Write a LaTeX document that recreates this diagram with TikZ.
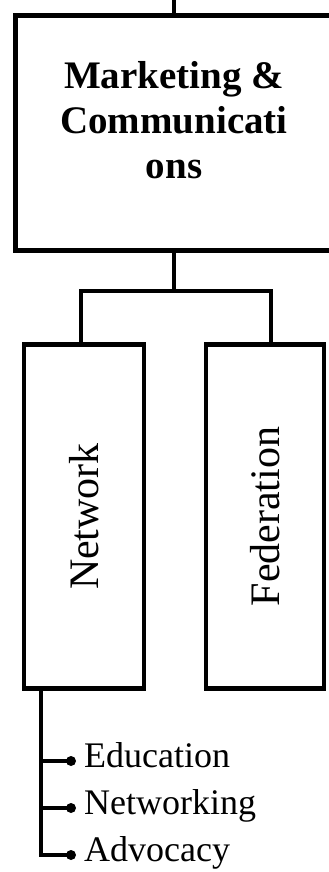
\documentclass[tikz,border=0pt]{standalone}
\usepackage{fontspec}
\setmainfont{Liberation Serif}

\begin{document}
\begin{tikzpicture}[x=1pt, y=-1pt, link/.style={line width=4pt},%
        unit/.style={draw, line width=4.5pt, minimum height=344pt, inner sep=0pt, font=\fontsize{42}{42}\selectfont},%
        item/.style={anchor=west, inner sep=0pt, text height=12pt, text depth=0pt, font=\fontsize{36}{36}\selectfont}]
        \useasboundingbox (0,0) rectangle (329,872);
        \node[draw, line width=5pt, minimum width=318pt, minimum height=235pt] (mc) at (174,133) {};
        \node[anchor=north, inner sep=0pt, align=center, font=\fontsize{39}{45}\selectfont\bfseries] (mctitle) at (174,61) {Marketing \&\\Communicati\\ons};
        \node[unit, minimum width=120pt] (net) at (84,516.5) {\rotatebox{90}{Network}};
        \node[unit, minimum width=118pt] (fed) at (265,516.5) {\rotatebox{90}{Federation}};
        \coordinate (top) at (174,0);
        \coordinate (fork) at (174,291);
        \draw[link] (top) -- (mc.north);
        \draw[link] (mc.south) -- (fork);
        \draw[link] ([xshift=-3pt]net.north) |- (fork) -| ([xshift=6pt]fed.north);
        \coordinate (spine) at ([xshift=-43pt]net.south);
        \foreach \name/\txt/\y in {edu/Education/761, nwk/Networking/808, adv/Advocacy/855} {
            \node[item] (\name) at (84,\y) {\txt};
            \draw[link] (spine) |- ([xshift=-13pt]\name.west);
            \fill ([xshift=-13pt]\name.west) circle (5pt);
        }
    \end{tikzpicture}
\end{document}
